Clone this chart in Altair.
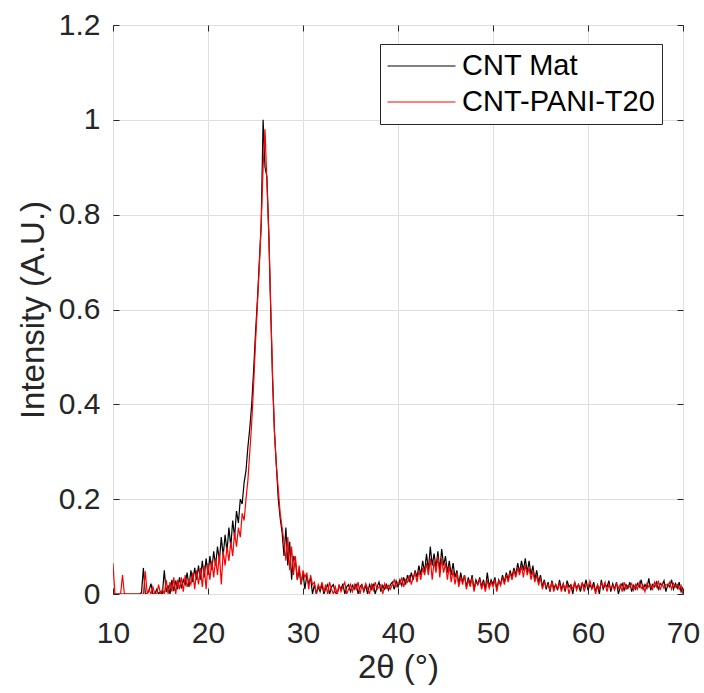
import altair as alt
import pandas as pd

# --- data ---
x_start = 10.0
x_step = 0.2

cnt_mat = [
    0, 0, 0, 0, 0, 0, 0, 0, 0, 0, 0, 0, 0, 0, 0, 0.003,
    0.055, 0, 0, 0.008, 0.022, 0, 0, 0.01, 0, 0.005,
    0, 0.05, 0.004, 0.018, 0.0, 0.03, 0.006, 0.028, 0.01, 0.035,
    0.012, 0.03, 0.02, 0.045, 0.015, 0.05, 0.025, 0.055, 0.03, 0.06,
    0.03, 0.07, 0.035, 0.075, 0.04, 0.08, 0.05, 0.09, 0.06, 0.1,
    0.07, 0.12, 0.08, 0.125, 0.09, 0.14, 0.1, 0.155, 0.12, 0.175,
    0.15, 0.2, 0.19, 0.235, 0.26, 0.31, 0.35, 0.4, 0.47, 0.55,
    0.62, 0.7, 0.78, 1.0, 0.9, 0.88, 0.76, 0.6, 0.45, 0.34,
    0.27, 0.2, 0.16, 0.13, 0.08, 0.14, 0.06, 0.11, 0.03, 0.08,
    0.07, 0.03, 0.05, 0.02, 0.045, 0.01, 0.04, 0.02, 0.035, 0.0,
    0.02, 0.0, 0.015, 0.005, 0.02, 0.0, 0.012, 0.02, 0.0, 0.015,
    0.02, 0.003, 0.0, 0.018, 0.01, 0.022, 0.0, 0.015, 0.02, 0.005,
    0.018, 0.01, 0.022, 0.0, 0.015, 0.02, 0.005, 0.018, 0.0, 0.02,
    0.01, 0.022, 0.0, 0.015, 0.025, 0.005, 0.018, 0.01, 0.02, 0.008,
    0.02, 0.025, 0.01, 0.028, 0.015, 0.03, 0.018, 0.035, 0.02, 0.04,
    0.025, 0.045, 0.03, 0.05, 0.035, 0.06, 0.04, 0.07, 0.045, 0.085,
    0.05, 0.1, 0.06, 0.085, 0.055, 0.09, 0.05, 0.095, 0.06, 0.08,
    0.045, 0.07, 0.04, 0.065, 0.035, 0.05, 0.02, 0.045, 0.025, 0.04,
    0.015, 0.035, 0.02, 0.04, 0.01, 0.03, 0.02, 0.035, 0.015, 0.03,
    0.01, 0.045, 0.015, 0.03, 0.02, 0.035, 0.01, 0.03, 0.02, 0.04,
    0.025, 0.045, 0.03, 0.05, 0.035, 0.055, 0.04, 0.065, 0.045, 0.07,
    0.05, 0.075, 0.045, 0.07, 0.04, 0.06, 0.03, 0.05, 0.025, 0.04,
    0.015, 0.03, 0.01, 0.025, 0.005, 0.028, 0.012, 0.02, 0.008, 0.03,
    0.01, 0.022, 0.005, 0.028, 0.015, 0.02, 0.0, 0.025, 0.012, 0.02,
    0.005, 0.022, 0.015, 0.03, 0.008, 0.02, 0.012, 0.025, 0.005, 0.018,
    0.0, 0.03, 0.01, 0.02, 0.015, 0.028, 0.005, 0.022, 0.01, 0.025,
    0.0, 0.015, 0.022, 0.008, 0.02, 0.012, 0.025, 0.005, 0.018, 0.01,
    0.022, 0.015, 0.03, 0.01, 0.02, 0.012, 0.033, 0.008, 0.02, 0.015,
    0.025, 0.01, 0.022, 0.018, 0.028, 0.005, 0.02, 0.015, 0.03, 0.01,
    0.022, 0.012, 0.025, 0.005, 0.015,
]

cnt_pani_t20 = [
    0.065, 0.0, 0.0, 0.0, 0.0, 0.04, 0.0, 0.0, 0.0, 0.0, 0.0, 0.0, 0.0, 0.0, 0.0, 0.0,
    0.0, 0.048, 0.0, 0.01, 0.0, 0.015, 0.0, 0.0, 0.02, 0.0,
    0.01, 0.0, 0.03, 0.0, 0.025, 0.005, 0.035, 0.0, 0.03, 0.01,
    0.035, 0.005, 0.04, 0.015, 0.03, 0.02, 0.045, 0.01, 0.05, 0.02,
    0.055, 0.015, 0.06, 0.01, 0.065, 0.03, 0.07, 0.035, 0.075, 0.04,
    0.085, 0.02, 0.09, 0.06, 0.1, 0.07, 0.11, 0.08, 0.13, 0.1,
    0.14, 0.12, 0.17, 0.155, 0.2, 0.24, 0.3, 0.36, 0.44, 0.53,
    0.61, 0.69, 0.78, 0.9, 0.98, 0.87, 0.76, 0.61, 0.46, 0.34,
    0.27, 0.22, 0.17, 0.14, 0.11, 0.07, 0.12, 0.05, 0.1, 0.04,
    0.08, 0.03, 0.06, 0.02, 0.05, 0.035, 0.045, 0.01, 0.04, 0.02,
    0.025, 0.0, 0.02, 0.01, 0.025, 0.005, 0.02, 0.0, 0.025, 0.01,
    0.0, 0.015, 0.0, 0.02, 0.005, 0.015, 0.025, 0.0, 0.01, 0.02,
    0.005, 0.02, 0.01, 0.025, 0.0, 0.018, 0.008, 0.022, 0.012, 0.0,
    0.02, 0.008, 0.025, 0.01, 0.015, 0.02, 0.0, 0.022, 0.012, 0.018,
    0.01, 0.02, 0.03, 0.015, 0.025, 0.02, 0.035, 0.015, 0.03, 0.025,
    0.04, 0.02, 0.035, 0.045, 0.025, 0.05, 0.03, 0.055, 0.04, 0.065,
    0.04, 0.075, 0.03, 0.07, 0.045, 0.08, 0.035, 0.075, 0.045, 0.065,
    0.03, 0.06, 0.025, 0.05, 0.02, 0.045, 0.015, 0.035, 0.02, 0.04,
    0.01, 0.03, 0.015, 0.035, 0.005, 0.025, 0.02, 0.03, 0.01, 0.025,
    0.005, 0.03, 0.012, 0.025, 0.015, 0.03, 0.005, 0.028, 0.018, 0.035,
    0.02, 0.04, 0.025, 0.045, 0.03, 0.05, 0.035, 0.055, 0.04, 0.06,
    0.035, 0.062, 0.04, 0.055, 0.03, 0.05, 0.025, 0.04, 0.018, 0.035,
    0.01, 0.025, 0.015, 0.02, 0.008, 0.025, 0.005, 0.02, 0.012, 0.022,
    0.005, 0.02, 0.01, 0.022, 0.0, 0.018, 0.012, 0.025, 0.008, 0.02,
    0.012, 0.025, 0.005, 0.02, 0.015, 0.028, 0.01, 0.018, 0.0, 0.02,
    0.01, 0.022, 0.015, 0.025, 0.005, 0.02, 0.012, 0.018, 0.008, 0.022,
    0.012, 0.02, 0.005, 0.025, 0.01, 0.018, 0.015, 0.022, 0.008, 0.02,
    0.01, 0.025, 0.012, 0.018, 0.005, 0.022, 0.015, 0.02, 0.01, 0.025,
    0.015, 0.028, 0.008, 0.022, 0.012, 0.02, 0.018, 0.025, 0.01, 0.022,
    0.015, 0.02, 0.01, 0.018, 0.0,
]

series_names = ["CNT Mat", "CNT-PANI-T20"]
series_colors = ["#000000", "#ff0000"]
x_ticks = [10, 20, 30, 40, 50, 60, 70]
y_ticks = [0, 0.2, 0.4, 0.6, 0.8, 1.0, 1.2]


def frame(vals, name):
    return pd.DataFrame({
        "theta": [round(x_start + x_step * i, 2) for i in range(len(vals))],
        "intensity": vals,
        "series": name,
    })


df_mat = frame(cnt_mat, series_names[0])
df_pani = frame(cnt_pani_t20, series_names[1])

FONT = "Liberation Sans"
INK = "#262626"
GRID = "#dfdfdf"

x_scale = alt.Scale(domain=[10, 70], nice=False, zero=False)
y_scale = alt.Scale(domain=[0, 1.2], nice=False, zero=False)

x_axis_main = alt.Axis(
    orient="bottom", values=x_ticks, format="d", offset=-6, tickSize=6,
    tickColor=INK, tickWidth=1, domain=False, grid=True, gridColor=GRID,
    gridWidth=1, labelFontSize=30, labelFont=FONT, labelColor=INK,
    labelPadding=24, labelFlush=False, labelOverlap=False,
    title="2θ (°)", titleFontSize=33, titleFont=FONT,
    titleFontWeight="normal", titleColor=INK, titlePadding=3,
)
y_axis_main = alt.Axis(
    orient="left", values=y_ticks, format="~g", offset=-6, tickSize=6,
    tickColor=INK, tickWidth=1, domain=False, grid=True, gridColor=GRID,
    gridWidth=1, labelFontSize=30, labelFont=FONT, labelColor=INK,
    labelPadding=13, labelFlush=False, labelOverlap=False,
    title="Intensity (A.U.)", titleFontSize=33, titleFont=FONT,
    titleFontWeight="normal", titleColor=INK, titlePadding=8,
)
x_axis_top = alt.Axis(
    orient="top", values=x_ticks, offset=-6, tickSize=6, tickColor=INK,
    tickWidth=1, domain=False, grid=False, labels=False, title=None,
)
y_axis_right = alt.Axis(
    orient="right", values=y_ticks, offset=-6, tickSize=6, tickColor=INK,
    tickWidth=1, domain=False, grid=False, labels=False, title=None,
)

color = alt.Color(
    "series:N",
    scale=alt.Scale(domain=series_names, range=series_colors),
    legend=alt.Legend(
        title=None, orient="none", legendX=267, legendY=19,
        symbolType="stroke", symbolSize=4624, symbolStrokeWidth=1,
        clipHeight=30, rowPadding=6, padding=7, symbolOffset=0,
        labelOffset=6, labelFontSize=29, labelFont=FONT,
        labelColor="#000000", labelLimit=400, fillColor="white",
        strokeColor=INK,
    ),
)

line_mat = alt.Chart(df_mat).mark_line(strokeWidth=1.2, clip=True).encode(
    x=alt.X("theta:Q", scale=x_scale, axis=x_axis_main),
    y=alt.Y("intensity:Q", scale=y_scale, axis=y_axis_main),
    color=color,
)
line_pani = alt.Chart(df_pani).mark_line(strokeWidth=1.2, clip=True).encode(
    x=alt.X("theta:Q", scale=x_scale, axis=x_axis_main),
    y=alt.Y("intensity:Q", scale=y_scale, axis=y_axis_main),
    color=color,
)
inner = alt.layer(line_mat, line_pani)

ghost = alt.Chart(df_mat).mark_line(opacity=0, strokeOpacity=0).encode(
    x=alt.X("theta:Q", scale=x_scale, axis=x_axis_top),
    y=alt.Y("intensity:Q", scale=y_scale, axis=y_axis_right),
)

chart = (
    alt.layer(inner, ghost)
    .resolve_axis(x="independent", y="independent")
    .properties(
        width=570, height=569,
        padding={"left": 113, "top": 25, "right": 21, "bottom": 99},
        autosize=alt.AutoSizeParams(type="none"),
        background="white",
    )
    .configure_view(stroke=INK, strokeWidth=1)
)

chart.save("out.html", embed_options={"renderer": "svg", "actions": False})
